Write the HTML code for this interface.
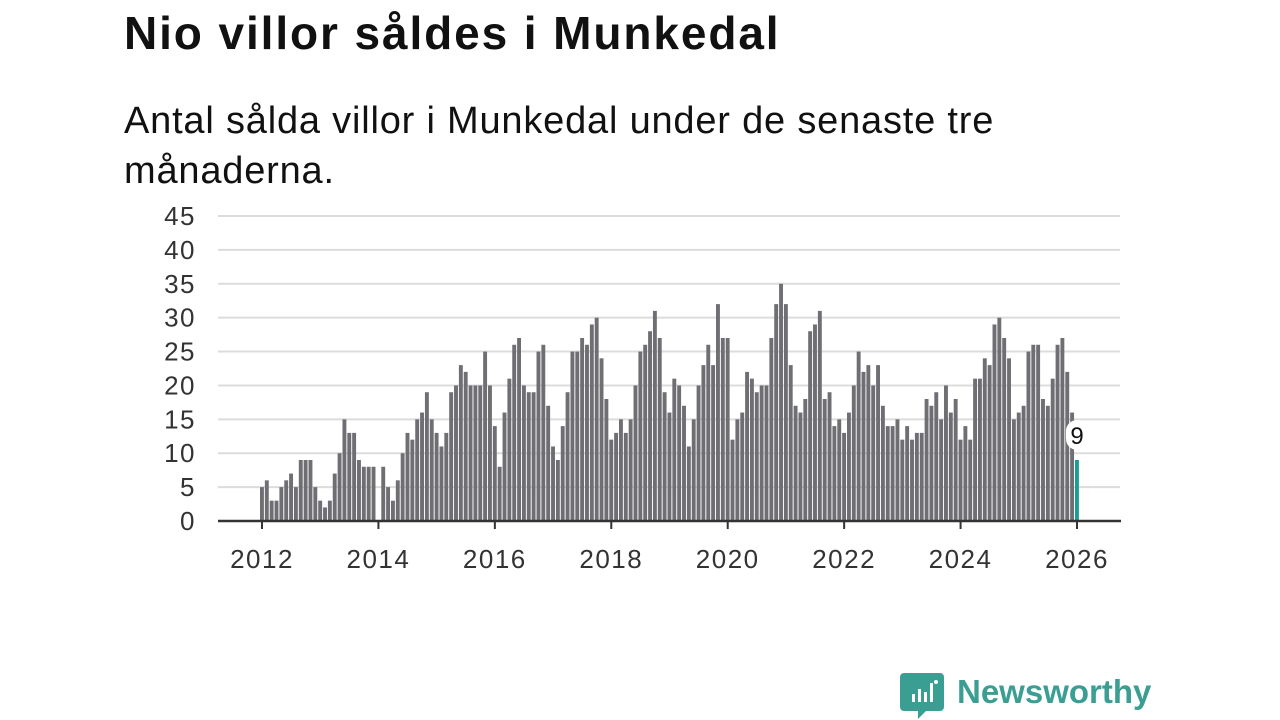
<!DOCTYPE html>
<html><head><meta charset="utf-8"><style>
body{margin:0;width:1280px;height:720px;background:#fff;font-family:"Liberation Sans","DejaVu Sans",sans-serif;overflow:hidden;position:relative}
h1{position:absolute;left:124px;top:6px;margin:0;font-size:46px;font-weight:bold;color:#111;letter-spacing:1.9px}
.sub{position:absolute;left:124px;top:96px;margin:0;font-size:38px;line-height:50px;color:#111;width:900px;letter-spacing:0.8px}
svg{position:absolute;left:0;top:0}
</style></head><body>
<h1>Nio villor såldes i Munkedal</h1>
<p class="sub">Antal sålda villor i Munkedal under de senaste tre månaderna.</p>
<svg id="chart" width="1280" height="720"></svg>
<script>
const startYear = 2012;
const values = [
5,6,3,3,5,6,7,5,9,9,9,5,
3,2,3,7,10,15,13,13,9,8,8,8,
0,8,5,3,6,10,13,12,15,16,19,15,
13,11,13,19,20,23,22,20,20,20,25,20,
14,8,16,21,26,27,20,19,19,25,26,17,
11,9,14,19,25,25,27,26,29,30,24,18,
12,13,15,13,15,20,25,26,28,31,27,19,
16,21,20,17,11,15,20,23,26,23,32,27,
27,12,15,16,22,21,19,20,20,27,32,35,
32,23,17,16,18,28,29,31,18,19,14,15,
13,16,20,25,22,23,20,23,17,14,14,15,
12,14,12,13,13,18,17,19,15,20,16,18,
12,14,12,21,21,24,23,29,30,27,24,15,
16,17,25,26,26,18,17,21,26,27,22,16,
9];
const yTicks = [0,5,10,15,20,25,30,35,40,45];
const xTicks = [2012,2014,2016,2018,2020,2022,2024,2026];

const svg = document.getElementById('chart');
const NS = 'http://www.w3.org/2000/svg';
const x0 = 262, pxPerYear = (1077-262)/14;
const yBase = 521, yTop = 216, yMax = 45;
const xs = m => x0 + m*pxPerYear/12;
const ys = v => yBase - v*(yBase-yTop)/yMax;
function mk(tag, attrs){const e=document.createElementNS(NS,tag);for(const k in attrs)e.setAttribute(k,attrs[k]);svg.appendChild(e);return e;}

yTicks.forEach(t=>{
  const g = mk('line',{x1:218,x2:1120,y1:ys(t),y2:ys(t),stroke:'#dcdcdc','stroke-width':2});
  
  
  const l = mk('text',{x:196,y:ys(t)+9,'text-anchor':'end','font-size':26,'letter-spacing':1.5,fill:'#333'});
  l.textContent = t;
  
  
});

values.forEach((v,i)=>{
  const last = i===values.length-1;
  const r = mk('rect',{x:xs(i)-2,y:ys(v),width:3.9,height:yBase-ys(v),fill:last?'#1a9e93':'#6f6e73'});
  
  
});

const ax = mk('line',{x1:218,x2:1121,y1:yBase,y2:yBase,stroke:'#333','stroke-width':2.5});



xTicks.forEach(yr=>{
  const xp = xs((yr-startYear)*12);
  const t = mk('line',{x1:xp,x2:xp,y1:yBase,y2:yBase+8,stroke:'#333','stroke-width':2});
  
  
  const l = mk('text',{x:xp,y:568,'text-anchor':'middle','font-size':26,'letter-spacing':1.5,fill:'#333'});
  l.textContent = yr;
  
  
});

const li = values.length-1;
const lx = xs(li), ly = ys(values[li]) - 24;
const bg = mk('rect',{x:lx-11,y:ly-16,width:22,height:30,rx:11,fill:'#fff'});


const lv = mk('text',{x:lx,y:ly+8,'text-anchor':'middle','font-size':24,fill:'#111'});
lv.textContent = values[li];


</script>
<svg width="1280" height="720" style="pointer-events:none">
  <path d="M904 673 h36 a4 4 0 0 1 4 4 v30 a4 4 0 0 1 -4 4 h-14 l-8 8 v-8 h-14 a4 4 0 0 1 -4 -4 v-30 a4 4 0 0 1 4 -4z" fill="#3a9e92"/>
  <rect x="912" y="694" width="3" height="8" fill="#fff"/><rect x="918" y="689" width="3" height="13" fill="#fff"/><rect x="924" y="692" width="3" height="10" fill="#fff"/><rect x="930" y="683" width="3" height="19" fill="#fff"/><circle cx="936" cy="682" r="2" fill="#fff"/>
  <text x="957" y="703" font-size="33" font-weight="bold" fill="#3a9e92" font-family="Liberation Sans, sans-serif">Newsworthy</text>
</svg>
</body></html>
